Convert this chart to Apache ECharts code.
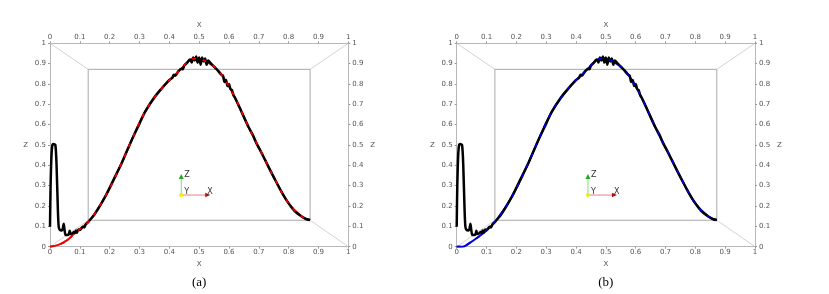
<!DOCTYPE html>
<html><head><meta charset="utf-8">
<script src="https://cdn.jsdelivr.net/npm/echarts@6/dist/echarts.min.js"></script>
<style>html,body{margin:0;padding:0;background:#fff}#c{width:829px;height:294px}</style>
</head><body><div id="c"></div>
<script>
// ---- data (axis units 0..1 of the outer box) ----
const tickValues = [0,0.1,0.2,0.3,0.4,0.5,0.6,0.7,0.8,0.9,1];
const panelTitles = ['(a)','(b)'];
const axisNameX = 'X';
const axisNameZ = 'Z';

// smooth reference curve, panel (a) red
const redX = [0,0.03,0.06,0.084,0.129,0.185,0.24,0.274,0.319,0.375,0.43,0.487,0.543,0.576,0.621,0.665,0.71,0.755,0.8,0.845,0.872];
const redZ = [0,0.01,0.035,0.069,0.123,0.246,0.41,0.525,0.664,0.779,0.86,0.926,0.893,0.844,0.73,0.59,0.459,0.328,0.213,0.147,0.131];
// smooth reference curve, panel (b) blue
const blueX = [0,0.02,0.04,0.07,0.1,0.129,0.185,0.24,0.274,0.319,0.375,0.43,0.487,0.543,0.576,0.621,0.665,0.71,0.755,0.8,0.845,0.872];
const blueZ = [0,0.0,0.015,0.045,0.08,0.123,0.246,0.41,0.525,0.664,0.779,0.86,0.926,0.893,0.844,0.73,0.59,0.459,0.328,0.213,0.147,0.131];
// noisy computed curve (black)
const blackX = [0,0.002,0.005,0.008,0.012,0.018,0.022,0.026,0.029,0.033,0.04,0.043,0.046,0.049,0.052,0.058,0.063,0.066,0.069,0.075,0.08,0.083,0.087,0.09,0.095,0.1,0.105,0.11,0.115,0.12,0.129,0.15,0.185,0.21,0.24,0.274,0.3,0.319,0.35,0.375,0.4,0.41,0.415,0.42,0.43,0.44,0.445,0.45,0.46,0.465,0.47,0.475,0.48,0.485,0.49,0.495,0.5,0.505,0.51,0.515,0.52,0.525,0.53,0.54,0.55,0.56,0.575,0.58,0.585,0.59,0.595,0.6,0.605,0.61,0.615,0.621,0.64,0.665,0.68,0.69,0.695,0.71,0.73,0.755,0.78,0.8,0.82,0.845,0.86,0.872];
const blackZ = [0.098,0.3,0.45,0.5,0.505,0.5,0.4,0.2,0.1,0.082,0.08,0.09,0.113,0.08,0.058,0.057,0.062,0.078,0.062,0.065,0.072,0.066,0.08,0.068,0.085,0.082,0.09,0.098,0.095,0.11,0.123,0.16,0.246,0.32,0.41,0.525,0.605,0.664,0.735,0.779,0.82,0.83,0.845,0.84,0.862,0.875,0.872,0.89,0.905,0.915,0.92,0.905,0.93,0.915,0.935,0.905,0.93,0.895,0.93,0.91,0.925,0.895,0.915,0.9,0.885,0.87,0.845,0.84,0.81,0.82,0.79,0.8,0.775,0.77,0.745,0.73,0.67,0.59,0.55,0.515,0.5,0.459,0.4,0.328,0.26,0.213,0.175,0.147,0.135,0.131];

// decorative box geometry (axis units)
const innerBoxX = [0.128,0.872,0.872,0.128,0.128];
const innerBoxZ = [0.13,0.13,0.872,0.872,0.13];
const diagLines = [[[0,0],[0.128,0.13]],[[1,0],[0.872,0.13]],[[1,1],[0.872,0.872]],[[0,1],[0.128,0.872]]];
const triadOrigin = [0.44,0.254];

const zip = (xs, zs) => xs.map((x,i)=>[x, zs[i]]);

const chart = echarts.init(document.getElementById('c'), null, {renderer:'canvas'});
const gridLefts = [50, 456.7];
const gridW = 298.3, gridTop = 43.3, gridH = 203.4;
const labelFont = {color:'#555', fontSize:7, fontFamily:'DejaVu Sans'};
const fmt = v => String(+v.toFixed(1));

const grids = [], xAxes = [], yAxes = [], series = [];
[0,1].forEach(g => {
  grids.push({left: gridLefts[g], top: gridTop, width: gridW, height: gridH, containLabel:false});
  ['bottom','top'].forEach(pos => xAxes.push({
    type:'value', gridIndex:g, position:pos, min:0, max:1, interval:0.1,
    name: axisNameX, nameLocation:'middle', nameGap: pos==='top'?11:10,
    nameTextStyle:{color:'#555', fontSize:7, fontFamily:'DejaVu Sans'},
    axisLine:{show:true, onZero:false, lineStyle:{color:'#b8b8b8', width:1}},
    axisTick:{show:true, length:2, lineStyle:{color:'#999'}},
    axisLabel:{...labelFont, margin: pos==='top'?3:2, formatter: fmt},
    splitLine:{show:false}
  }));
  ['left','right'].forEach(pos => yAxes.push({
    type:'value', gridIndex:g, position:pos, min:0, max:1, interval:0.1,
    name: axisNameZ, nameLocation:'middle', nameGap:22, nameRotate:0,
    nameTextStyle:{color:'#555', fontSize:7, fontFamily:'DejaVu Sans'},
    axisLine:{show:true, onZero:false, lineStyle:{color:'#b8b8b8', width:1}},
    axisTick:{show:true, length:2, lineStyle:{color:'#999'}},
    axisLabel:{...labelFont, margin:4, formatter: fmt},
    splitLine:{show:false}
  }));
  const xi = g*2, yi = g*2;
  series.push({type:'line', xAxisIndex:xi, yAxisIndex:yi, data: zip(innerBoxX, innerBoxZ), symbol:'none',
    lineStyle:{color:'#a8a8a8', width:1}, silent:true, z:1, animation:false});
  diagLines.forEach(d => series.push({type:'line', xAxisIndex:xi, yAxisIndex:yi, data:d, symbol:'none',
    lineStyle:{color:'#c8c8c8', width:0.8}, silent:true, z:1, animation:false}));
  const refX = g===0 ? redX : blueX, refZ = g===0 ? redZ : blueZ;
  const refC = g===0 ? '#ee0000' : '#0000dd';
  series.push({type:'line', xAxisIndex:xi, yAxisIndex:yi, data: zip(refX, refZ), symbol:'none', smooth:0.4,
    lineStyle:{color:refC, width:2}, z:2, animation:false});
  series.push({type:'line', xAxisIndex:xi, yAxisIndex:yi, data: zip(blackX, blackZ), symbol:'none', smooth:0.25,
    lineStyle:{color:'#000', width:2.5}, z:3, animation:false});
  series.push({type:'line', xAxisIndex:xi, yAxisIndex:yi, data: zip(refX, refZ), symbol:'none', smooth:0.4,
    lineStyle:{color:refC, width:1.8, type:[4,7]}, z:4, animation:false});
});

chart.setOption({
  animation:false,
  grid: grids, xAxis: xAxes, yAxis: yAxes, series: series
});

// triad + captions
const graphics = [];
[0,1].forEach(g => {
  const p = chart.convertToPixel({xAxisIndex:g*2, yAxisIndex:g*2}, triadOrigin);
  const ox = p[0], oy = p[1];
  graphics.push({type:'line', shape:{x1:ox,y1:oy,x2:ox,y2:oy-18}, style:{stroke:'#7ddf7d', lineWidth:1}, silent:true});
  graphics.push({type:'polygon', shape:{points:[[ox-2.5,oy-16],[ox+2.5,oy-16],[ox,oy-21]]}, style:{fill:'#22aa22'}, silent:true});
  graphics.push({type:'line', shape:{x1:ox,y1:oy,x2:ox+26,y2:oy}, style:{stroke:'#e98080', lineWidth:1}, silent:true});
  graphics.push({type:'polygon', shape:{points:[[ox+24,oy-2.3],[ox+24,oy+2.3],[ox+29,oy]]}, style:{fill:'#aa1111'}, silent:true});
  graphics.push({type:'circle', shape:{cx:ox, cy:oy, r:2}, style:{fill:'#eeee00'}, silent:true});
  graphics.push({type:'text', x:ox+3, y:oy-24, style:{text:'Z', fill:'#333', fontSize:8, fontFamily:'DejaVu Sans'}, silent:true});
  graphics.push({type:'text', x:ox+3, y:oy-7, style:{text:'Y', fill:'#333', fontSize:8, fontFamily:'DejaVu Sans'}, silent:true});
  graphics.push({type:'text', x:ox+26, y:oy-7, style:{text:'X', fill:'#333', fontSize:8, fontFamily:'DejaVu Sans'}, silent:true});
  const cx = gridLefts[g] + gridW/2;
  graphics.push({type:'text', x:cx, y:283, style:{text:panelTitles[g], fill:'#000', fontSize:13,
    fontFamily:'Liberation Serif', align:'center', verticalAlign:'middle'}, silent:true});
});
chart.setOption({graphic: graphics});
</script>
</body></html>
